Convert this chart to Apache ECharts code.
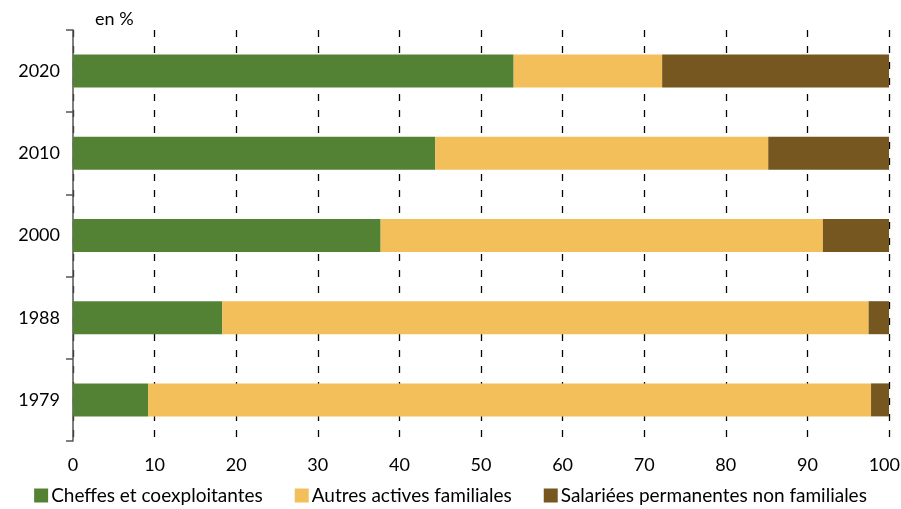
<!DOCTYPE html>
<html>
<head>
<meta charset="utf-8">
<script src="https://cdn.jsdelivr.net/npm/echarts@6/dist/echarts.min.js"></script>
<style>
  html, body { margin: 0; padding: 0; background: #fff; }
  #chart { width: 901px; height: 509px; }
</style>
</head>
<body>
<div id="chart"></div>
<script>
var years = ['1979', '1988', '2000', '2010', '2020'];
var cheffes = [9.2, 18.3, 37.7, 44.4, 54.0];
var autres = [88.6, 79.2, 54.2, 40.8, 18.2];
var salariees = [2.2, 2.5, 8.1, 14.8, 27.8];

var font = 'Lato, "Open Sans", sans-serif';
var myChart = echarts.init(document.getElementById('chart'));

var option = {
    animation: false,
    textStyle: { fontFamily: font },
    graphic: [{
        type: 'text',
        left: 95,
        top: 10,
        style: { text: 'en %', fontSize: 18, fontFamily: font, fill: '#000' }
    }],
    legend: {
        bottom: -1,
        left: 'center',
        itemWidth: 14,
        itemHeight: 14,
        itemGap: 32,
        icon: 'rect',
        textStyle: { fontSize: 19, color: '#000', fontFamily: font, padding: [0, 0, 0, -2] },
        data: ['Cheffes et coexploitantes', 'Autres actives familiales', 'Salariées permanentes non familiales']
    },
    grid: {
        left: 73,
        right: 12,
        top: 30,
        bottom: 68,
        outerBoundsMode: 'none'
    },
    xAxis: {
        type: 'value',
        min: 0,
        max: 100,
        interval: 10,
        axisLine: { show: false },
        axisTick: { show: false },
        axisLabel: {
            fontSize: 18,
            color: '#000',
            margin: 15,
            alignMaxLabel: 'right',
            formatter: function (v) {
                return v === 100 ? '{m|100}' : v;
            },
            rich: {
                m: { fontSize: 18, color: '#000', fontFamily: font, padding: [0, -11, 0, 0] }
            }
        },
        splitLine: {
            show: true,
            lineStyle: { color: '#000', type: [7, 9], width: 1.3 }
        }
    },
    yAxis: {
        type: 'category',
        data: years,
        axisLine: { show: true, lineStyle: { color: '#555', width: 1.5 } },
        axisTick: { show: true, length: 7, lineStyle: { color: '#555', width: 1.5 } },
        axisLabel: { fontSize: 18, color: '#000', margin: 13 }
    },
    series: [{
        name: 'Cheffes et coexploitantes',
        type: 'bar',
        stack: 'total',
        barWidth: 33,
        itemStyle: { color: '#548235' },
        data: cheffes
    }, {
        name: 'Autres actives familiales',
        type: 'bar',
        stack: 'total',
        barWidth: 33,
        itemStyle: { color: '#F2BF5B' },
        data: autres
    }, {
        name: 'Salariées permanentes non familiales',
        type: 'bar',
        stack: 'total',
        barWidth: 33,
        itemStyle: { color: '#75571F' },
        data: salariees
    }]
};
myChart.setOption(option);
</script>
</body>
</html>
